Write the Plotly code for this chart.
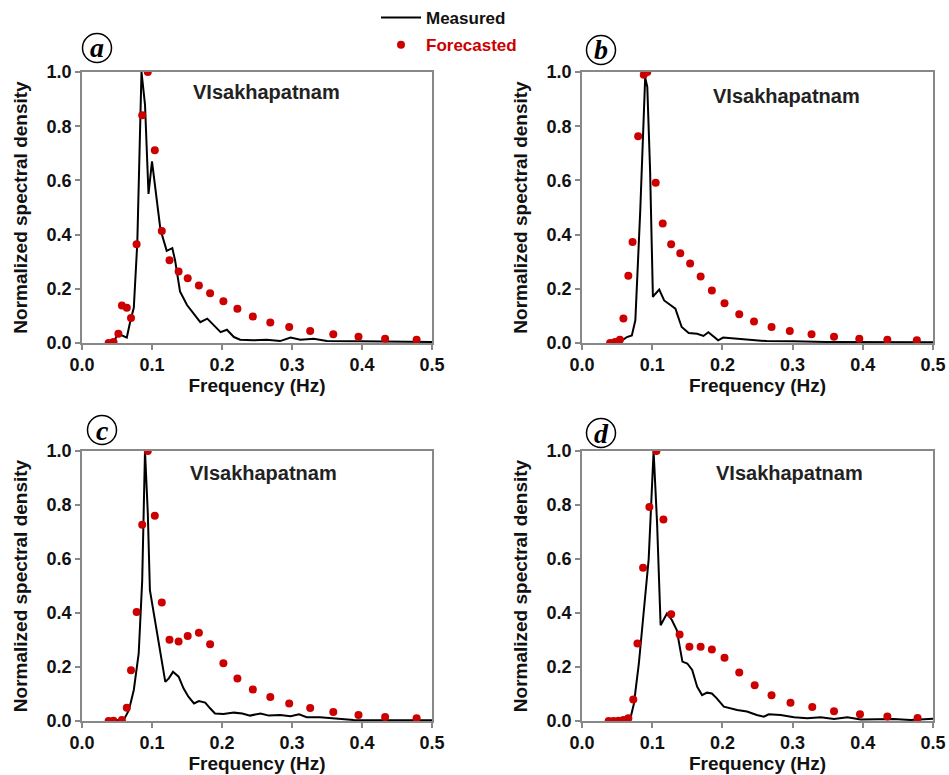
import plotly.graph_objects as go

# ---------------- data ----------------
# Panel a
meas_a_f = [0.038, 0.045, 0.052, 0.057, 0.064, 0.069, 0.074, 0.079, 0.085, 0.090, 0.095, 0.100,
            0.107, 0.112, 0.121, 0.129, 0.133, 0.140, 0.150, 0.160, 0.169, 0.179, 0.188, 0.198,
            0.207, 0.217, 0.226, 0.245, 0.264, 0.283, 0.298, 0.312, 0.331, 0.350, 0.398, 0.445, 0.500]
meas_a_v = [0.0, 0.005, 0.034, 0.028, 0.02, 0.08, 0.13, 0.37, 1.0, 0.88, 0.55, 0.67,
            0.51, 0.42, 0.34, 0.35, 0.305, 0.19, 0.14, 0.108, 0.077, 0.09, 0.065, 0.04,
            0.049, 0.022, 0.012, 0.01, 0.012, 0.007, 0.02, 0.012, 0.016, 0.007, 0.006, 0.004, 0.004]
fc_a_f = [0.038, 0.045, 0.052, 0.057, 0.064, 0.070, 0.078, 0.086, 0.094, 0.104, 0.114, 0.125, 0.138,
          0.151, 0.167, 0.183, 0.202, 0.222, 0.244, 0.269, 0.296, 0.326, 0.359, 0.395, 0.433, 0.478]
fc_a_v = [0.0, 0.004, 0.034, 0.138, 0.13, 0.092, 0.364, 0.84, 1.0, 0.711, 0.413, 0.305, 0.264,
          0.239, 0.212, 0.184, 0.154, 0.126, 0.098, 0.076, 0.059, 0.044, 0.032, 0.023, 0.016, 0.012]

# Panel b
meas_b_f = [0.040, 0.054, 0.064, 0.071, 0.076, 0.083, 0.090, 0.093, 0.097, 0.101, 0.104, 0.110,
            0.117, 0.126, 0.133, 0.142, 0.152, 0.164, 0.173, 0.180, 0.187, 0.194, 0.201, 0.225,
            0.244, 0.263, 0.301, 0.348, 0.500]
meas_b_v = [0.0, 0.004, 0.022, 0.028, 0.084, 0.49, 0.98, 0.945, 0.637, 0.17, 0.18, 0.197,
            0.157, 0.139, 0.127, 0.059, 0.037, 0.034, 0.026, 0.04, 0.025, 0.01, 0.02, 0.015,
            0.01, 0.007, 0.006, 0.004, 0.003]
fc_b_f = [0.040, 0.047, 0.054, 0.059, 0.066, 0.072, 0.080, 0.088, 0.093, 0.105, 0.115, 0.127, 0.140,
          0.154, 0.169, 0.185, 0.203, 0.224, 0.245, 0.270, 0.296, 0.327, 0.359, 0.395, 0.435, 0.477]
fc_b_v = [0.0, 0.004, 0.012, 0.09, 0.248, 0.373, 0.763, 0.99, 1.0, 0.591, 0.441, 0.364, 0.331,
          0.293, 0.245, 0.194, 0.147, 0.106, 0.079, 0.059, 0.044, 0.032, 0.023, 0.016, 0.012, 0.01]

# Panel c
meas_c_f = [0.038, 0.060, 0.067, 0.074, 0.081, 0.086, 0.090, 0.094, 0.097, 0.102, 0.110, 0.119,
            0.124, 0.130, 0.138, 0.145, 0.152, 0.160, 0.167, 0.176, 0.183, 0.190, 0.202, 0.217,
            0.229, 0.240, 0.255, 0.267, 0.283, 0.298, 0.310, 0.321, 0.340, 0.360, 0.388, 0.421, 0.500]
meas_c_v = [0.0, 0.006, 0.04, 0.115, 0.25, 0.52, 1.0, 0.77, 0.485, 0.41, 0.275, 0.145,
            0.158, 0.182, 0.164, 0.121, 0.09, 0.065, 0.074, 0.068, 0.047, 0.028, 0.026, 0.031,
            0.028, 0.02, 0.028, 0.02, 0.022, 0.018, 0.025, 0.014, 0.014, 0.01, 0.004, 0.003, 0.003]
fc_c_f = [0.038, 0.045, 0.057, 0.064, 0.070, 0.078, 0.086, 0.094, 0.104, 0.114, 0.125, 0.138,
          0.151, 0.167, 0.183, 0.202, 0.222, 0.244, 0.269, 0.296, 0.326, 0.359, 0.395, 0.433, 0.478]
fc_c_v = [0.0, 0.001, 0.004, 0.049, 0.188, 0.404, 0.727, 1.0, 0.76, 0.439, 0.301, 0.294,
          0.315, 0.327, 0.284, 0.214, 0.157, 0.117, 0.089, 0.065, 0.048, 0.033, 0.022, 0.015, 0.01]

# Panel d
meas_d_f = [0.038, 0.064, 0.069, 0.074, 0.081, 0.086, 0.092, 0.095, 0.102, 0.107, 0.112, 0.116,
            0.121, 0.128, 0.135, 0.143, 0.150, 0.157, 0.164, 0.171, 0.178, 0.185, 0.192, 0.202,
            0.211, 0.221, 0.235, 0.249, 0.259, 0.266, 0.283, 0.302, 0.321, 0.340, 0.359, 0.378,
            0.397, 0.425, 0.444, 0.468, 0.500]
meas_d_v = [0.0, 0.004, 0.01, 0.065, 0.213, 0.361, 0.52, 0.6, 1.0, 0.73, 0.355, 0.374,
            0.398, 0.374, 0.337, 0.22, 0.213, 0.189, 0.127, 0.096, 0.105, 0.102, 0.084, 0.053,
            0.047, 0.041, 0.035, 0.022, 0.016, 0.025, 0.022, 0.014, 0.01, 0.014, 0.007, 0.014,
            0.006, 0.008, 0.007, 0.004, 0.008]
fc_d_f = [0.038, 0.045, 0.052, 0.059, 0.066, 0.073, 0.079, 0.087, 0.096, 0.106, 0.116, 0.127, 0.139,
          0.153, 0.169, 0.185, 0.203, 0.224, 0.246, 0.270, 0.297, 0.328, 0.359, 0.396, 0.435, 0.478]
fc_d_v = [0.0, 0.0, 0.001, 0.004, 0.01, 0.08, 0.287, 0.568, 0.793, 1.0, 0.746, 0.395, 0.32,
          0.275, 0.275, 0.265, 0.234, 0.18, 0.132, 0.095, 0.068, 0.052, 0.036, 0.025, 0.017, 0.011]

panel_letters = ["a", "b", "c", "d"]
station = "VIsakhapatnam"
x_title = "Frequency (Hz)"
y_title = "Normalized spectral density"
series_names = ["Measured", "Forecasted"]
x_ticks = [0, 0.1, 0.2, 0.3, 0.4, 0.5]
y_ticks = [0, 0.2, 0.4, 0.6, 0.8, 1.0]

# ---------------- figure ----------------
W, H = 949, 775
RED = "#cc0000"
SANS = "Liberation Sans, Arial, sans-serif"

panels = [
    (meas_a_f, meas_a_v, fc_a_f, fc_a_v),
    (meas_b_f, meas_b_v, fc_b_f, fc_b_v),
    (meas_c_f, meas_c_v, fc_c_f, fc_c_v),
    (meas_d_f, meas_d_v, fc_d_f, fc_d_v),
]
# plot areas in pixels (x0, x1, ytop, ybottom)
boxes = [(82, 432, 72, 343), (582, 933, 72, 343), (82, 432, 451, 721), (582, 933, 451, 721)]
label_pos = [(0.264, 0.925), (0.292, 0.91), (0.259, 0.918), (0.296, 0.92)]
letter_px = [(97, 48), (601, 50), (102, 430), (601, 433)]
x_standoff = [4, 4, 1, 1]

fig = go.Figure()
layout = dict(
    width=W, height=H, margin=dict(l=0, r=0, t=0, b=0, autoexpand=False),
    paper_bgcolor="white", plot_bgcolor="white",
    font=dict(family=SANS, size=17, color="#111"),
    showlegend=True,
    legend=dict(x=376 / W, y=1.0, xanchor="left", yanchor="top",
                font=dict(size=17, family=SANS),
                bgcolor="rgba(0,0,0,0)", tracegroupgap=2, traceorder="grouped",
                itemwidth=40),
)
annotations = []
shapes = []
tickfont = dict(family=SANS, size=18, color="#111")
titlefont = dict(family=SANS, size=19, color="#111")

for i, (mf, mv, ff, fv) in enumerate(panels):
    n = "" if i == 0 else str(i + 1)
    xa, ya = "x" + n, "y" + n
    fig.add_trace(go.Scatter(x=mf, y=mv, mode="lines", xaxis=xa, yaxis=ya,
                             line=dict(color="black", width=2),
                             name="<b>" + series_names[0] + "</b>", legendgroup="m",
                             showlegend=(i == 0)))
    fig.add_trace(go.Scatter(x=ff, y=fv, mode="markers", xaxis=xa, yaxis=ya,
                             marker=dict(color=RED, size=8),
                             name="<b><span style='color:" + RED + "'>" + series_names[1] + "</span></b>",
                             legendgroup="f", showlegend=(i == 0)))
    x0, x1, yt, yb = boxes[i]
    layout["xaxis" + n] = dict(
        domain=[x0 / W, x1 / W], anchor=ya, range=[0, 0.5], automargin=False,
        tickvals=x_ticks, ticktext=["<b>%.1f</b>" % v for v in x_ticks],
        showgrid=False, zeroline=False,
        showline=True, linecolor="#888", linewidth=1.5, mirror=True,
        ticks="outside", ticklen=5, tickwidth=1.5, tickcolor="#888",
        tickfont=tickfont,
        title=dict(text="<b>" + x_title + "</b>", font=titlefont, standoff=x_standoff[i]),
    )
    layout["yaxis" + n] = dict(
        domain=[1 - yb / H, 1 - yt / H], anchor=xa, range=[0, 1], automargin=False,
        tickvals=y_ticks, ticktext=["<b>%.1f</b>" % v for v in y_ticks],
        showgrid=False, zeroline=False,
        showline=True, linecolor="#888", linewidth=1.5, mirror=True,
        ticks="outside", ticklen=5, tickwidth=1.5, tickcolor="#888",
        tickfont=tickfont,
        title=dict(text="<b>" + y_title + "</b>", font=titlefont, standoff=14),
    )
    lx, ly = label_pos[i]
    annotations.append(dict(text="<b>" + station + "</b>", x=lx, y=ly, xref=xa, yref=ya,
                            showarrow=False, font=dict(size=20, color="#222", family=SANS)))
    cx, cy = letter_px[i]
    annotations.append(dict(text="<b><i>" + panel_letters[i] + "</i></b>", x=cx / W, y=1 - cy / H,
                            xref="paper", yref="paper", xanchor="center", yanchor="middle",
                            showarrow=False,
                            font=dict(size=28, color="black",
                                      family="Liberation Serif, Times New Roman, serif")))
    r = 14.5
    shapes.append(dict(type="circle", xref="paper", yref="paper",
                       x0=(cx - r) / W, x1=(cx + r) / W, y0=1 - (cy + r) / H, y1=1 - (cy - r) / H,
                       line=dict(color="black", width=1.5)))

layout["annotations"] = annotations
layout["shapes"] = shapes
fig.update_layout(**layout)
fig.write_html("out.html", config={"displayModeBar": False},
               post_script="document.body.style.margin='0';document.body.style.overflow='hidden';")
